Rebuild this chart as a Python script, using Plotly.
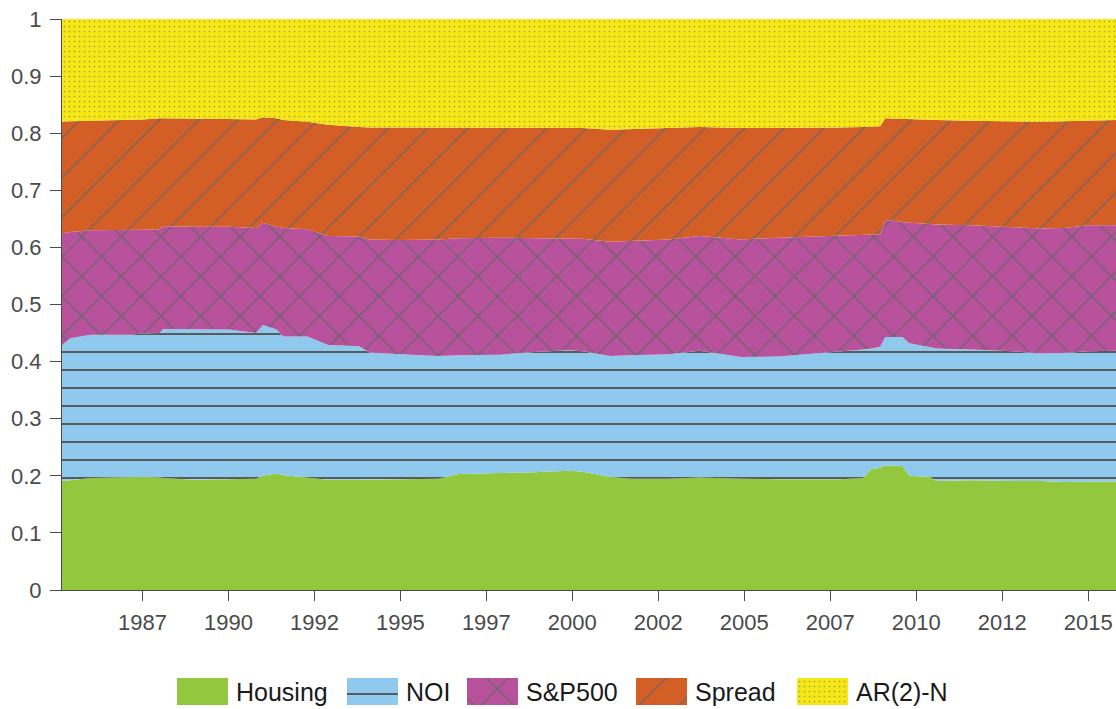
import plotly.graph_objects as go

# Sample dates (decimal years) and the share of each component at those dates
dates = [1985.16, 1985.4, 1986.0, 1987.1, 1987.5, 1988.0, 1988.1, 1989.0, 1990.0, 1990.8,
         1991.0, 1991.4, 1991.6, 1992.3, 1992.9, 1993.8, 1994.1, 1995.0, 1996.1, 1996.7,
         1997.9, 1998.9, 1999.9, 2000.3, 2001.1, 2001.7, 2002.8, 2003.7, 2004.9, 2006.0,
         2007.8, 2008.45, 2008.7, 2008.95, 2009.1, 2009.6, 2009.8, 2010.4, 2010.6, 2011.6,
         2012.8, 2013.6, 2014.3, 2015.0, 2015.81]

housing = [.191, .192, .196, .198, .198, .197, .196, .193, .194, .195,
           .200, .204, .201, .197, .193, .193, .193, .194, .195, .203,
           .205, .206, .209, .207, .198, .195, .195, .197, .195, .194,
           .194, .196, .212, .214, .218, .217, .200, .198, .191, .192,
           .191, .191, .189, .190, .190]

noi = [.238, .249, .251, .249, .251, .253, .261, .263, .262, .255,
       .264, .252, .243, .247, .236, .234, .223, .219, .215, .208,
       .207, .211, .211, .211, .212, .216, .218, .222, .213, .215,
       .223, .225, .211, .212, .225, .226, .232, .227, .232, .229,
       .227, .223, .226, .228, .229]

sp500 = [.196, .186, .183, .183, .182, .182, .180, .180, .180, .184,
         .179, .180, .190, .188, .191, .192, .198, .200, .204, .205,
         .205, .199, .196, .197, .200, .200, .201, .201, .206, .208,
         .203, .200, .199, .197, .205, .201, .211, .216, .217, .218,
         .218, .219, .219, .221, .220]

spread = [.195, .194, .192, .193, .193, .194, .189, .190, .189, .190,
          .185, .190, .189, .188, .195, .192, .196, .197, .196, .194,
          .193, .193, .194, .194, .196, .196, .196, .191, .195, .192,
          .190, .190, .189, .189, .178, .181, .181, .182, .183, .183,
          .185, .187, .187, .183, .184]

ar2n = [.180, .179, .178, .177, .176, .174, .174, .174, .175, .176,
        .172, .174, .177, .180, .185, .189, .190, .190, .190, .190,
        .190, .191, .190, .191, .194, .193, .190, .189, .191, .191,
        .190, .189, .189, .188, .174, .175, .176, .177, .177, .178,
        .179, .180, .179, .178, .177]

x_tick_vals = [1987.5, 1990, 1992.5, 1995, 1997.5, 2000, 2002.5, 2005, 2007.5, 2010, 2012.5, 2015]
x_tick_text = ["1987", "1990", "1992", "1995", "1997", "2000", "2002", "2005", "2007", "2010", "2012", "2015"]
y_tick_vals = [0, 0.1, 0.2, 0.3, 0.4, 0.5, 0.6, 0.7, 0.8, 0.9, 1]
y_tick_text = ["0", "0.1", "0.2", "0.3", "0.4", "0.5", "0.6", "0.7", "0.8", "0.9", "1"]

FONT = "Liberation Sans, Arial, Helvetica, sans-serif"
AXIS_GREY = "#4a4a4a"

# name, values, fill colour, hatch pattern
series = [
    ("Housing", housing, "#93c83e", None),
    ("NOI", noi, "#8fc9ee", dict(shape="-", size=18, solidity=0.11, fgcolor="#5a5a5a")),
    ("S&P500", sp500, "#b8529c", dict(shape="x", size=28, solidity=0.1, fgcolor="#666666", fgopacity=0.85)),
    ("Spread", spread, "#d35f27", dict(shape="/", size=28, solidity=0.05, fgcolor="#666666", fgopacity=0.85)),
    ("AR(2)-N", ar2n, "#f6e716", dict(shape=".", size=5, solidity=0.09, fgcolor="#8f8a3a", fgopacity=0.8)),
]

fig = go.Figure()

for name, vals, color, pat in series:
    kw = {}
    if pat is not None:
        kw["fillpattern"] = dict(bgcolor=color, fillmode="replace", **pat)
    fig.add_trace(go.Scatter(
        x=dates, y=vals, name=name, stackgroup="shares", mode="lines",
        line=dict(width=0, color=color), fillcolor=color, showlegend=False,
        xaxis="x", yaxis="y", **kw))

# Legend row drawn on its own small axes so the swatches can be large and hatched
legend_left = [177, 347, 467, 636, 797]
swatch_w = 51
swatch_bottom, swatch_top = 4, 31
for (name, vals, color, pat), x0 in zip(series, legend_left):
    kw = {}
    if pat is not None:
        kw["fillpattern"] = dict(bgcolor=color, fillmode="replace", **pat)
    fig.add_trace(go.Scatter(
        x=[x0, x0 + swatch_w, x0 + swatch_w, x0, x0],
        y=[swatch_bottom, swatch_bottom, swatch_top, swatch_top, swatch_bottom],
        fill="toself", fillcolor=color, mode="lines", line=dict(width=0, color=color),
        showlegend=False, hoverinfo="skip", xaxis="x2", yaxis="y2", **kw))
    fig.add_annotation(x=x0 + swatch_w + 6, y=(swatch_bottom + swatch_top) / 2 - 0.5,
                       xref="x2", yref="y2", text=name, showarrow=False,
                       xanchor="left", yanchor="middle",
                       font=dict(family=FONT, size=25, color="#1a1a1a"))

fig.update_layout(
    width=1116, height=709,
    margin=dict(l=62, r=0, t=19, b=0, autoexpand=False),
    paper_bgcolor="white", plot_bgcolor="white",
    showlegend=False,
    xaxis=dict(
        range=[1985.16, 2015.81], domain=[0, 1], anchor="y",
        tickmode="array", tickvals=x_tick_vals, ticktext=x_tick_text,
        ticks="outside", ticklen=10, tickcolor=AXIS_GREY, tickwidth=1,
        showline=True, linecolor=AXIS_GREY, linewidth=1,
        showgrid=False, zeroline=False, ticklabelstandoff=3, automargin=False,
        tickfont=dict(family=FONT, size=22, color=AXIS_GREY)),
    yaxis=dict(
        range=[0, 1], domain=[119 / 690, 1], anchor="x",
        tickmode="array", tickvals=y_tick_vals, ticktext=y_tick_text,
        ticks="outside", ticklen=11, tickcolor=AXIS_GREY, tickwidth=1,
        showline=True, linecolor=AXIS_GREY, linewidth=1,
        showgrid=False, zeroline=False, ticklabelstandoff=4, automargin=False,
        tickfont=dict(family=FONT, size=22, color=AXIS_GREY)),
    xaxis2=dict(range=[62, 1116], domain=[0, 1], anchor="y2", visible=False,
                fixedrange=True, automargin=False),
    yaxis2=dict(range=[0, 60], domain=[0, 60 / 690], anchor="x2", visible=False,
                fixedrange=True, automargin=False),
)

fig.write_html("out.html")
